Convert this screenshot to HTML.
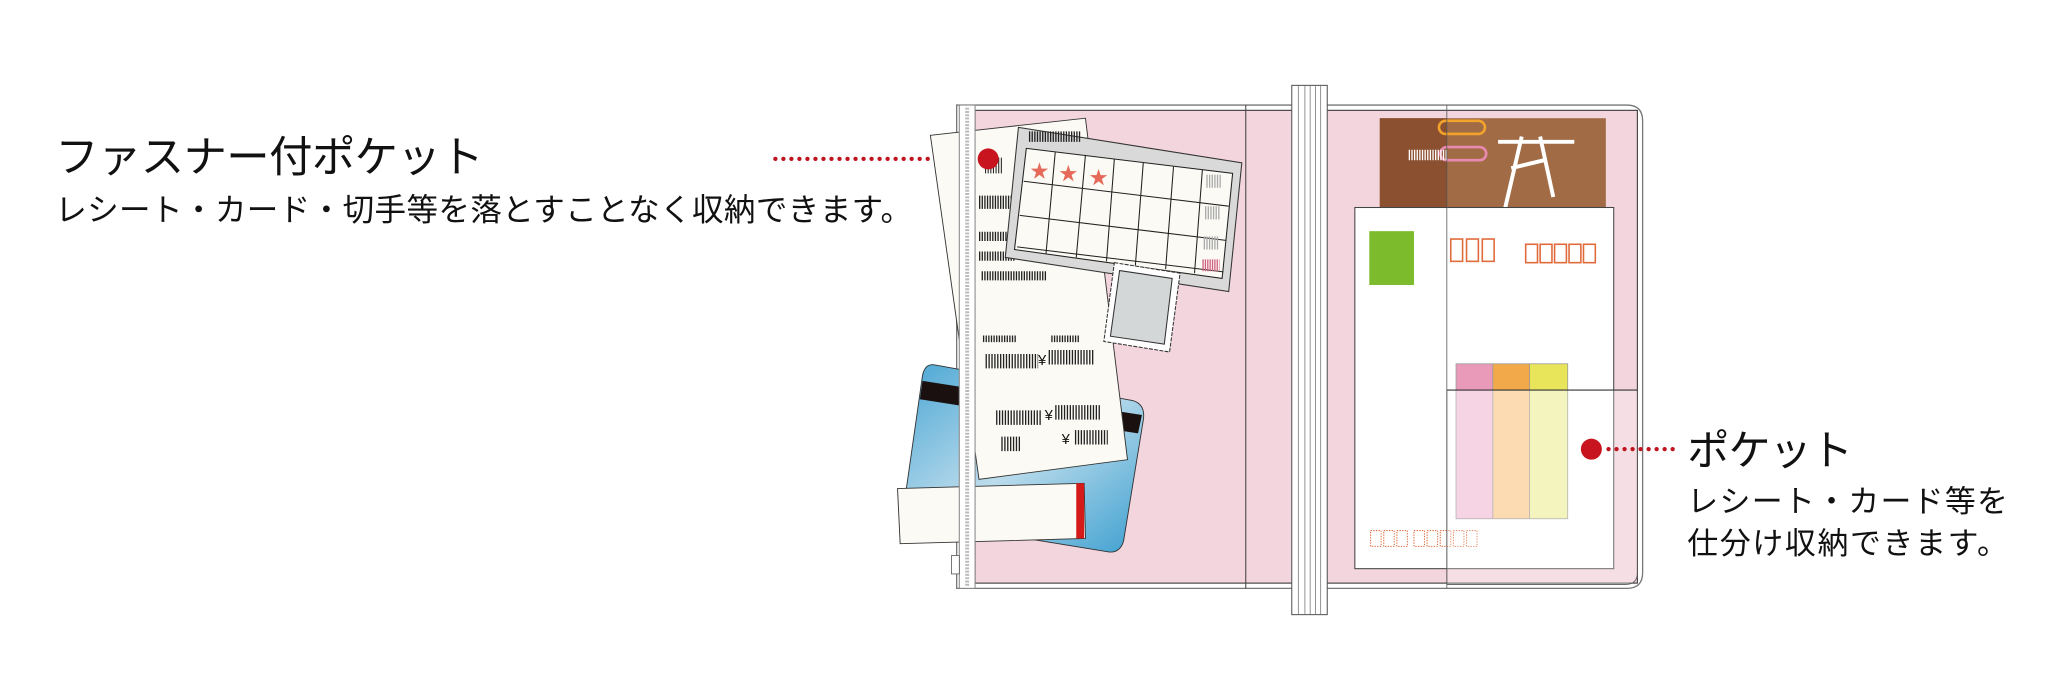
<!DOCTYPE html>
<html><head><meta charset="utf-8"><style>
html,body{margin:0;padding:0;background:#fff;width:2050px;height:700px;overflow:hidden}
svg{display:block}
text{font-family:"Liberation Sans","Noto Sans CJK JP",sans-serif}
</style></head><body>
<svg width="2050" height="700" viewBox="0 0 1560 533" preserveAspectRatio="none" xmlns="http://www.w3.org/2000/svg">
<defs>
<linearGradient id="blue" x1="0" y1="0" x2="1" y2="1">
<stop offset="0" stop-color="#4aa6d4"/><stop offset="0.5" stop-color="#bcdcec"/><stop offset="1" stop-color="#3c9fd0"/>
</linearGradient>
</defs>
<!-- left text -->
<text x="42" y="131" font-size="33" fill="#111" textLength="326">ファスナー付ポケット</text>
<text x="42" y="168" font-size="24" fill="#111" textLength="652">レシート・カード・切手等を落とすことなく収納できます。</text>
<line x1="590" y1="121" x2="742" y2="121" stroke="#c0141e" stroke-width="3.2" stroke-dasharray="0.1,6" stroke-linecap="round"/>
<!-- right text -->
<text x="1284" y="354" font-size="32" fill="#111" textLength="126">ポケット</text>
<text x="1284" y="390" font-size="23.5" fill="#111" textLength="244">レシート・カード等を</text>
<text x="1284" y="422" font-size="23.5" fill="#111" textLength="244">仕分け収納できます。</text>

<!-- book covers -->
<path d="M728,80 H1238 Q1250,80 1250,92 V436 Q1250,448 1238,448 H728 Z" fill="#fff" stroke="#777" stroke-width="1"/>
<rect x="742" y="84" width="504" height="360" fill="#f2d5dd" stroke="#333" stroke-width="0.8"/>
<line x1="948" y1="80" x2="948" y2="448" stroke="#444" stroke-width="0.8"/>

<!-- blue card -->
<path d="M712,278 L862,305 Q872,308 870,320 L855,412 Q852,422 842,420 L696,396 Q686,394 688,384 L702,286 Q704,276 712,278 Z" fill="url(#blue)" stroke="#333" stroke-width="0.7"/>
<path d="M702,290 L869,316 L866,330 L700,304 Z" fill="#1a1010"/>
<!-- receipt -->
<path d="M708,103 L826,90 L858,350 L745,365 Z" fill="#fbfaf4" stroke="#333" stroke-width="0.7"/>
<g stroke="#222" stroke-width="0.8">
<path d="M750,120 v12 M752,120 v12 M754,120 v12 M756,120 v12 M758,120 v12 M760,120 v12 M762,120 v12"/>
<path d="M745,152 h28 M745,156 h28" stroke-dasharray="1,1" stroke-width="6"/>
<path d="M745,180 h28 M745,195 h28 M747,210 h50" stroke-dasharray="1,1" stroke-width="7"/>
<path d="M748,258 h25 M800,258 h22" stroke-dasharray="1,1" stroke-width="5"/>
<path d="M750,275 h40 M798,272 h35" stroke-dasharray="1,1.2" stroke-width="11"/>
<path d="M758,318 h35 M803,314 h35" stroke-dasharray="1,1.2" stroke-width="11"/>
<path d="M762,338 h15 M818,333 h25" stroke-dasharray="1,1.2" stroke-width="11"/>
</g>
<text x="790" y="278" font-size="11" fill="#111">¥</text><text x="795" y="320" font-size="11" fill="#111">¥</text><text x="808" y="338" font-size="11" fill="#111">¥</text>
<!-- calendar -->
<path d="M775,97 L945,124 L935,222 L765,196 Z" fill="#d9d9d9" stroke="#333" stroke-width="0.8"/>
<path d="M781,113 L938,132 L930,212 L772,190 Z" fill="#fbfaf4" stroke="#222" stroke-width="0.8"/>
<g stroke="#222" stroke-width="0.8" fill="none">
<path d="M779,138 L935,157 M776,164 L933,183 M774,188 L931,207"/>
<path d="M803,116 L796,193 M826,118 L819,196 M848,121 L842,199 M870,124 L864,202 M893,127 L887,205 M915,129 L909,208"/>
</g>
<text x="784" y="135" font-size="14" fill="#e66a5a">★</text><text x="806" y="137" font-size="14" fill="#e66a5a">★</text><text x="829" y="140" font-size="14" fill="#e66a5a">★</text>
<path d="M783,104 h40" stroke="#222" stroke-width="8" stroke-dasharray="1,1"/>
<path d="M918,138 h12 M917,162 h12 M916,185 h12" stroke="#aaa" stroke-width="10" stroke-dasharray="1,1"/>
<path d="M915,202 h13" stroke="#d06080" stroke-width="9" stroke-dasharray="1,0.8"/>
<!-- stamp -->
<path d="M848,200 L898,208 L890,268 L840,260 Z" fill="#fff" stroke="#333" stroke-width="0.8" stroke-dasharray="3,1"/>
<path d="M852,206 L892,212 L886,262 L845,256 Z" fill="#d4d7d8" stroke="#333" stroke-width="0.8"/>
<!-- ticket -->
<path d="M683,372 L825,368 L826,410 L685,414 Z" fill="#fbfaf4" stroke="#333" stroke-width="0.7"/>
<rect x="819" y="368" width="6" height="42" fill="#d51a1a"/>
<!-- zipper -->
<rect x="730" y="80" width="12" height="368" fill="#fff" stroke="#888" stroke-width="0.8"/>
<line x1="736" y1="82" x2="736" y2="446" stroke="#bbb" stroke-width="3" stroke-dasharray="1.5,1"/>
<rect x="724" y="423" width="6" height="14" fill="#fff" stroke="#555" stroke-width="0.6"/>
<circle cx="752" cy="121" r="8" fill="#c8141e"/>

<!-- brown card -->
<rect x="1050" y="90" width="172" height="80" fill="#a06b45"/>
<rect x="1050" y="90" width="51" height="80" fill="#8b5030"/>
<path d="M1140,108 h58 M1158,104 L1145,160 M1172,104 L1182,150 M1150,128 L1175,122" stroke="#fff" stroke-width="3" fill="none"/>
<rect x="1095" y="92" width="35" height="10" rx="5" fill="none" stroke="#f2a32c" stroke-width="2"/>
<rect x="1096" y="112" width="35" height="10" rx="5" fill="none" stroke="#e88ab0" stroke-width="2"/>
<path d="M1072,118 h30" stroke="#fff" stroke-width="8" stroke-dasharray="1,1"/>
<!-- envelope -->
<rect x="1031" y="158" width="197" height="275" fill="#fff" stroke="#444" stroke-width="0.8"/>
<rect x="1042" y="176" width="34" height="41" fill="#7cbc2c"/>
<g fill="none" stroke="#e06a3a" stroke-width="1.2">
<rect x="1104" y="182" width="9" height="17"/><rect x="1116" y="182" width="9" height="17"/><rect x="1128" y="182" width="9" height="17"/>
<rect x="1161" y="186" width="9" height="14"/><rect x="1172" y="186" width="9" height="14"/><rect x="1183" y="186" width="9" height="14"/><rect x="1194" y="186" width="9" height="14"/><rect x="1205" y="186" width="9" height="14"/>
</g>
<g fill="none" stroke="#e06a3a" stroke-width="0.8" stroke-dasharray="1,1">
<rect x="1043" y="404" width="8" height="12"/><rect x="1053" y="404" width="8" height="12"/><rect x="1063" y="404" width="8" height="12"/>
<rect x="1076" y="404" width="8" height="12"/><rect x="1086" y="404" width="8" height="12"/><rect x="1096" y="404" width="8" height="12"/><rect x="1106" y="404" width="8" height="12"/><rect x="1116" y="404" width="8" height="12"/>
</g>
<!-- sticky tabs -->
<rect x="1108" y="277" width="28" height="20" fill="#e99ab8"/><rect x="1136" y="277" width="28" height="20" fill="#f2a94a"/><rect x="1164" y="277" width="29" height="20" fill="#e8e55a"/>
<rect x="1108" y="297" width="28" height="98" fill="#f5c6da"/><rect x="1136" y="297" width="28" height="98" fill="#fbcf98"/><rect x="1164" y="297" width="29" height="98" fill="#f1f1a8"/>
<g stroke="#999" stroke-width="0.6" fill="none"><rect x="1108" y="277" width="85" height="118"/><line x1="1136" y1="277" x2="1136" y2="395"/><line x1="1164" y1="277" x2="1164" y2="395"/></g>
<!-- pocket overlay -->
<path d="M1101,297 H1246 V436 Q1246,445 1237,445 H1101 Z" fill="#fff" fill-opacity="0.25" stroke="#555" stroke-width="0.6"/>
<line x1="1101" y1="297" x2="1246" y2="297" stroke="#333" stroke-width="0.8"/>
<line x1="1101" y1="80" x2="1101" y2="448" stroke="#555" stroke-width="0.6"/>
<!-- elastic band -->
<rect x="983" y="65" width="27" height="403" fill="#fff" stroke="#555" stroke-width="0.8"/>
<g stroke="#777" stroke-width="0.6"><line x1="988" y1="65" x2="988" y2="468"/><line x1="993" y1="65" x2="993" y2="468"/><line x1="997" y1="65" x2="997" y2="468"/><line x1="1001" y1="65" x2="1001" y2="468"/><line x1="1005" y1="65" x2="1005" y2="468"/></g>
<!-- right connector -->
<circle cx="1211" cy="342" r="8" fill="#c8141e"/>
<line x1="1224" y1="342" x2="1278" y2="342" stroke="#c0141e" stroke-width="3.2" stroke-dasharray="0.1,6" stroke-linecap="round"/>
</svg>
</body></html>
